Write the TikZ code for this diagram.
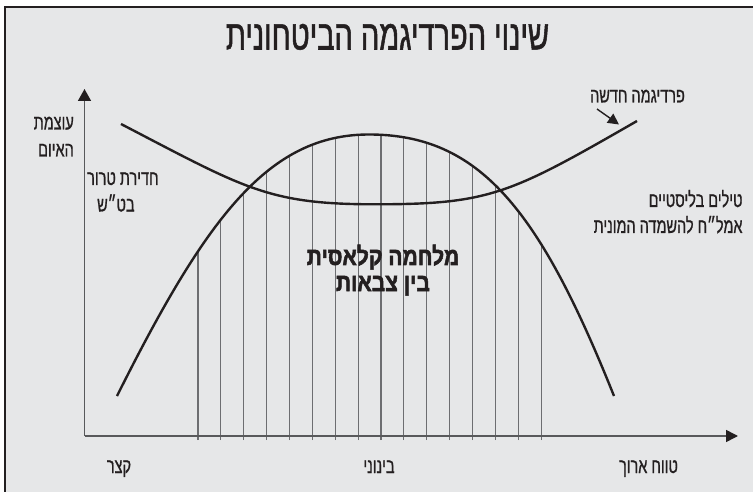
\documentclass[tikz,border=0pt]{standalone}
\usepackage{fontspec}
\usetikzlibrary{arrows.meta}
\TeXXeTstate=1
\newfontfamily\hebr[Script=Hebrew,FakeStretch=0.69,FakeBold=0.8]{Liberation Sans}
\newfontfamily\hebt[Script=Hebrew,FakeStretch=0.69,FakeBold=1.2]{Liberation Sans}
\newfontfamily\hebrb[Script=Hebrew,FakeStretch=0.84,FakeBold=2]{Liberation Sans Bold}
\definecolor{bgc}{HTML}{E6E7E8}
\definecolor{ink}{HTML}{231F20}
\definecolor{axisc}{HTML}{58595B}
\definecolor{hatchc}{HTML}{6D6E71}
\newcommand{\RL}[1]{\beginR #1\endR}
\begin{document}
\begin{tikzpicture}[x=1pt,y=-1pt,
  lbl/.style={font=\hebr\fontsize{21}{21}\selectfont, text=ink, inner sep=0pt, anchor=base},
  ttl/.style={font=\hebt\fontsize{42}{42}\selectfont, text=ink, inner sep=0pt, anchor=base},
  bld/.style={font=\hebrb\fontsize{25}{25}\selectfont, text=ink, inner sep=0pt, anchor=base},
  curve/.style={draw=ink, line width=2.4pt},
  axisline/.style={draw=axisc, line width=1.6pt},
  hatchline/.style={draw=hatchc, line width=1.1pt}]
\useasboundingbox (0,0) rectangle (753,492);
\fill[white] (0,0) rectangle (753,492);
\fill[bgc] (5,7) rectangle (753,492);
\draw[ink, line width=2pt] (5,492) -- (5,7) -- (753,7);

% curve shapes
\def\warcurve{(117,396) .. controls (207,216) and (269,134.5) .. (369,134.5) .. controls (479,134.5) and (539,208.5) .. (614,396)}
\def\ucurve{(121,124) .. controls (245,188.5) and (268,204.3) .. (375,204.3) .. controls (490,204.3) and (510,194) .. (637,121)}

% hatching under the classic-war curve
\begin{scope}
\clip \warcurve -- (614,440) -- (117,440) -- cycle;
\foreach \i in {0,...,15} \draw[hatchline] ({198+\i*22.87},440) -- ({198+\i*22.87},120);
\end{scope}

% axes
\coordinate (O) at (84.5,436);
\coordinate (xend) at (738,436);
\coordinate (yend) at (84.5,89);
\draw[axisline, -{Triangle[length=12pt,width=12pt,color=ink]}] (O) -- (xend);
\draw[axisline, -{Triangle[length=12pt,width=13pt,color=ink]}] (O) -- (yend);

% curves
\draw[curve] \warcurve;
\draw[curve] \ucurve;

% texts
\node[ttl] (title) at (387.5,49.5) {\RL{שינוי הפרדיגמה הביטחונית}};
\node[lbl, anchor=base east] (ylab1) at (74,129.5) {\RL{עוצמת}};
\node[lbl, anchor=base east] (ylab2) at (74,156.5) {\RL{האיום}};
\node[lbl, anchor=base west] (ter1) at (87,185) {\RL{חדירת טרור}};
\node[lbl, anchor=base west] (ter2) at (97,211.5) {\RL{בט״ש}};
\node[lbl] (newp) at (637.5,102.5) {\RL{פרדיגמה חדשה}};
\coordinate (arrs) at (597,109);
\coordinate (arre) at (619,124.5);
\draw[ink, line width=1.4pt, -{Triangle[length=11pt,width=11pt]}] (arrs) -- (arre);
\node[lbl, anchor=base east] (bal1) at (742.7,207) {\RL{טילים בליסטיים}};
\node[lbl, anchor=base east] (bal2) at (742.7,233) {\RL{אמל״ח להשמדה המונית}};
\node[bld] (war1) at (383,265) {\RL{מלחמה קלאסית}};
\node[bld] (war2) at (383,291) {\RL{בין צבאות}};
\node[lbl] (short) at (119,473) {\RL{קצר}};
\node[lbl] (mid) at (379,473) {\RL{בינוני}};
\node[lbl] (long) at (648.5,473) {\RL{טווח ארוך}};
\end{tikzpicture}
\end{document}
